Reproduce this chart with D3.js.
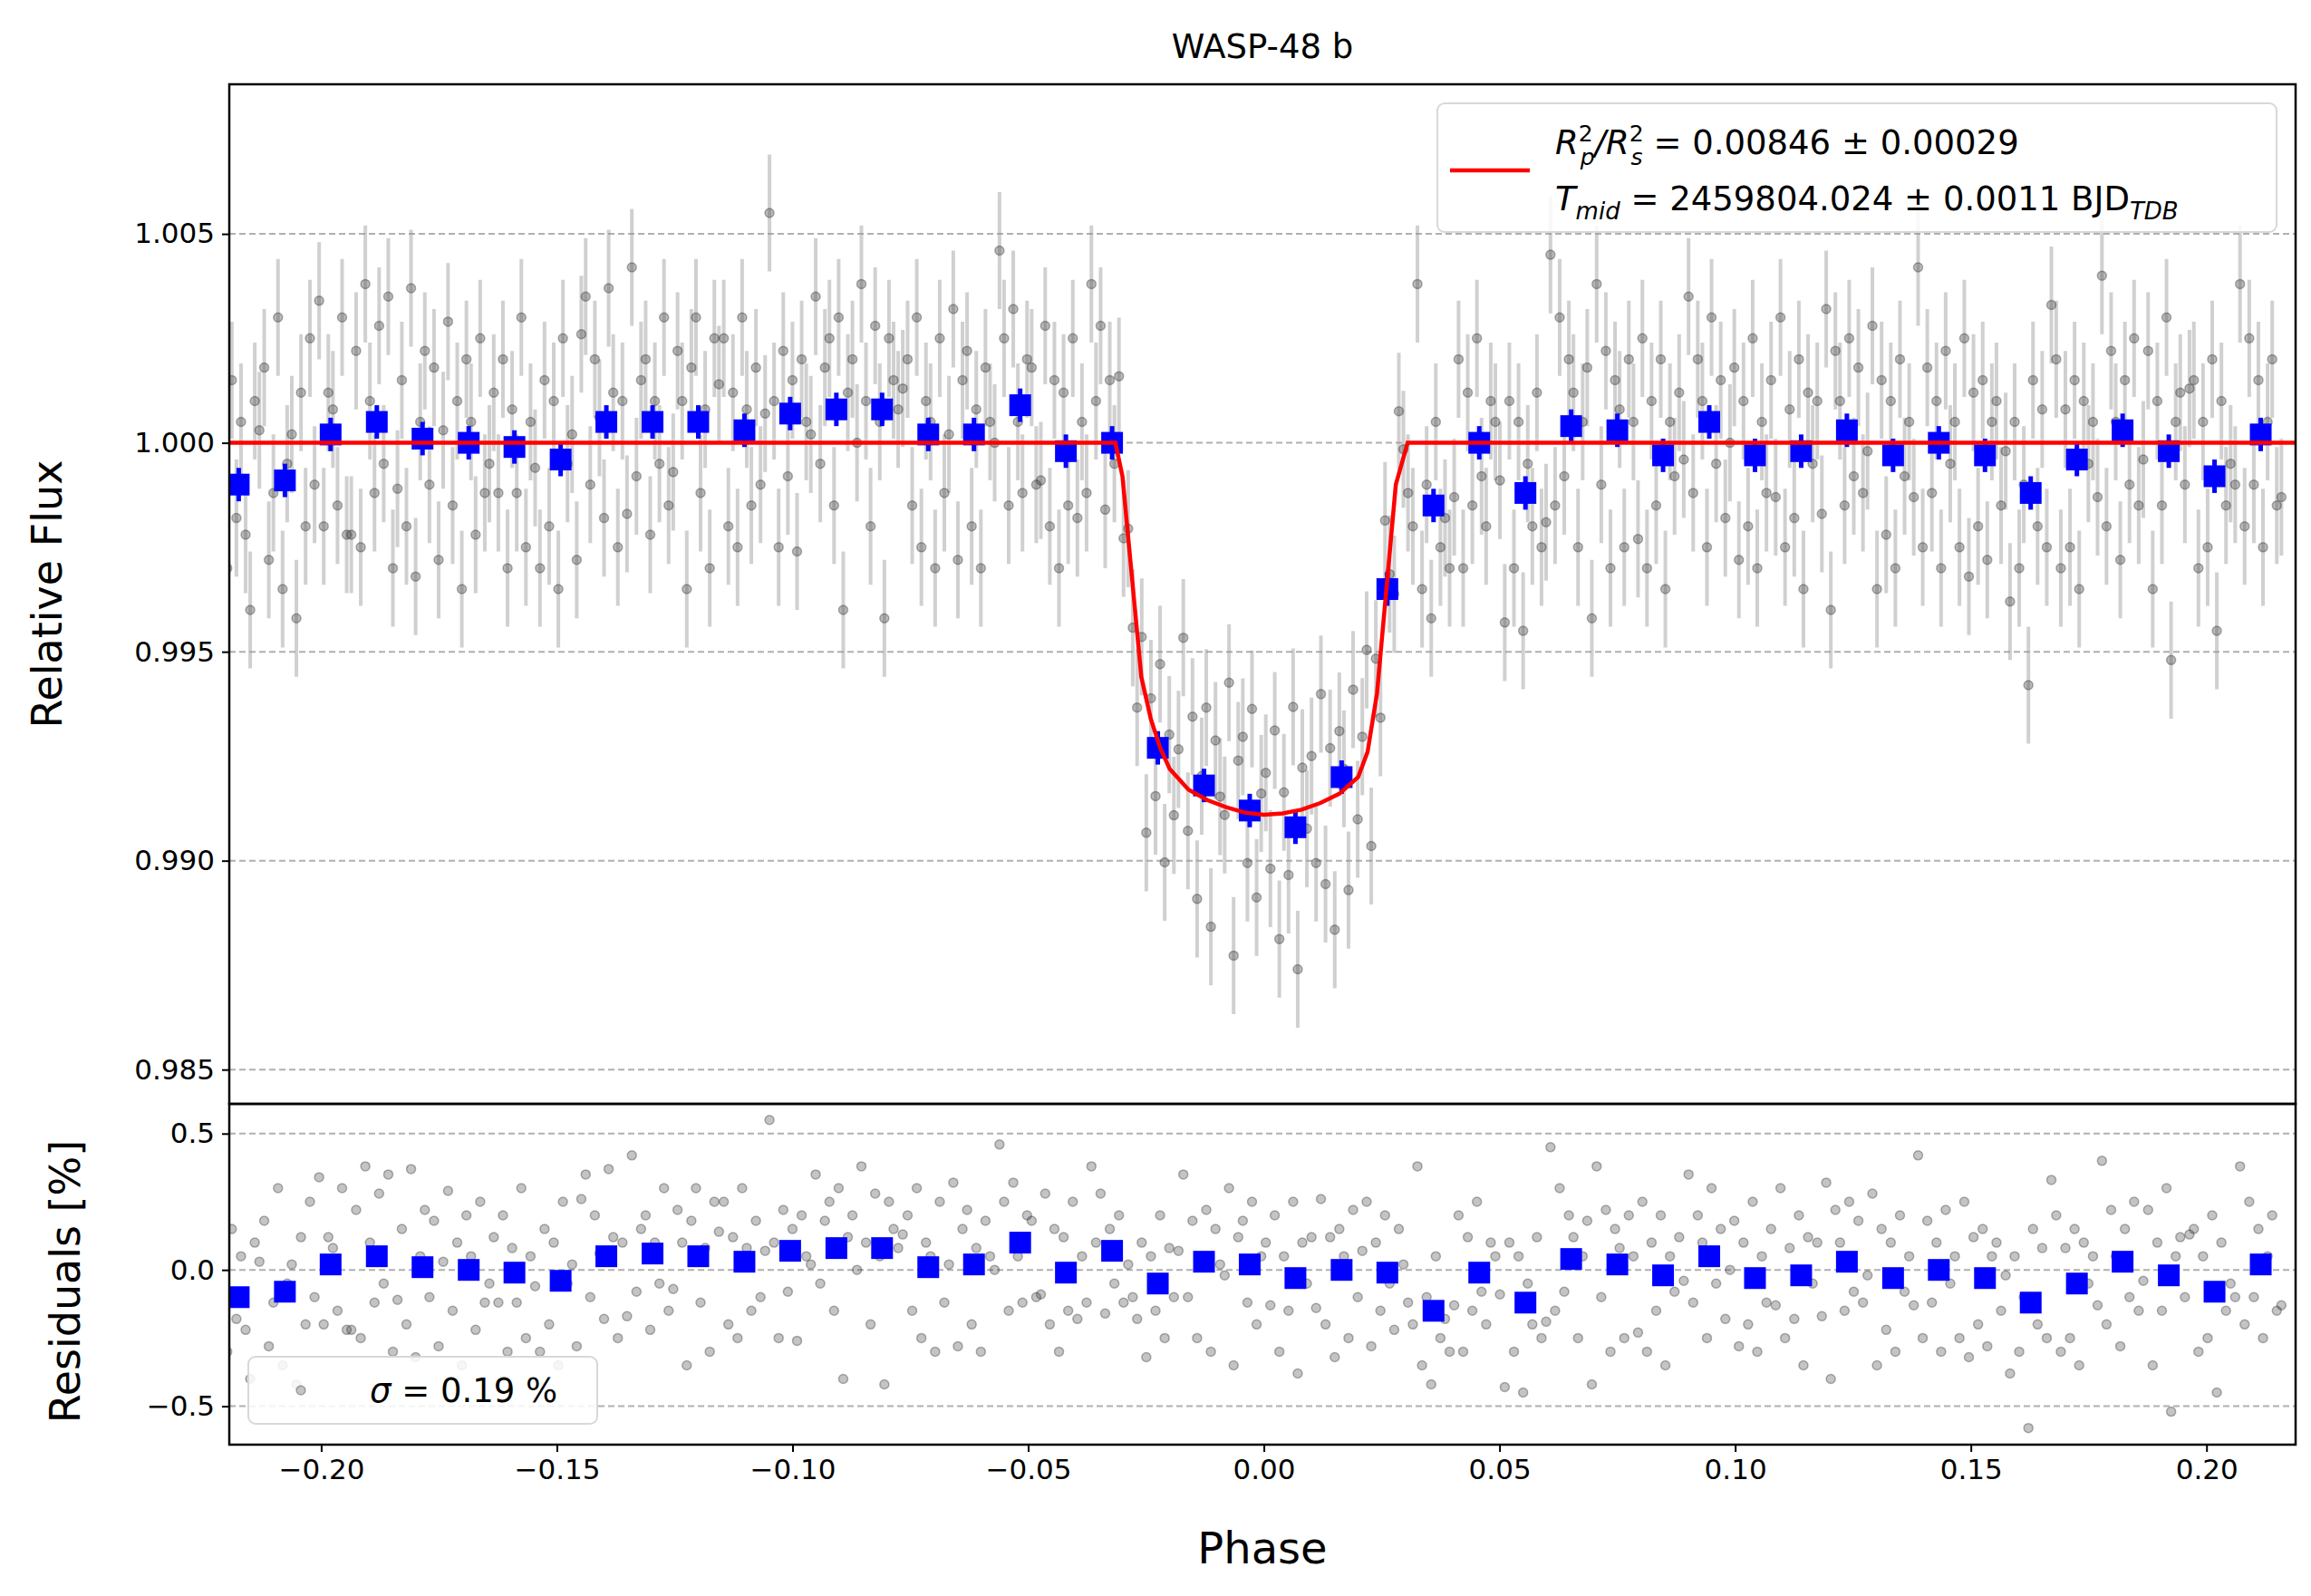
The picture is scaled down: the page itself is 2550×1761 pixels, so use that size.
<!DOCTYPE html>
<html>
<head>
<meta charset="UTF-8">
<style>
  body { margin: 0; background: white; }
  text { font-family: "DejaVu Sans", sans-serif; }
</style>
</head>
<body>
<svg></svg>
<script src="https://d3js.org/d3.v7.min.js"></script>
<script>
// binned points (phase, relative flux) and binned residuals [%]
const binPhase = [-0.2175,-0.2077,-0.1980,-0.1882,-0.1785,-0.1687,-0.1590,-0.1492,-0.1395,-0.1297,-0.1200,-0.1102,-0.1005,-0.0907,-0.0810,-0.0712,-0.0615,-0.0517,-0.0420,-0.0322,-0.0225,-0.0127,-0.0030,0.0067,0.0165,0.0262,0.0360,0.0457,0.0555,0.0652,0.0750,0.0847,0.0945,0.1042,0.1140,0.1237,0.1335,0.1432,0.1530,0.1627,0.1725,0.1822,0.1920,0.2017,0.2115];
const binFlux = [0.9990,0.9991,1.0002,1.0005,1.0001,1.0000,0.9999,0.9996,1.0005,1.0005,1.0005,1.0003,1.0007,1.0008,1.0008,1.0002,1.0002,1.0009,0.9998,1.0000,0.9927,0.9918,0.9912,0.9908,0.9920,0.9965,0.9985,1.0000,0.9988,1.0004,1.0003,0.9997,1.0005,0.9997,0.9998,1.0003,0.9997,1.0000,0.9997,0.9988,0.9996,1.0003,0.9998,0.9992,1.0002];
const binResid = [-0.10,-0.08,0.02,0.05,0.01,0.00,-0.01,-0.04,0.05,0.06,0.05,0.03,0.07,0.08,0.08,0.01,0.02,0.10,-0.01,0.07,-0.05,0.03,0.02,-0.03,0.00,-0.01,-0.15,-0.01,-0.12,0.04,0.02,-0.02,0.05,-0.03,-0.02,0.03,-0.03,0.00,-0.03,-0.12,-0.05,0.03,-0.02,-0.08,0.02];

// transit model curve
const modelPhase = [-0.23,-0.0315,-0.030,-0.028,-0.026,-0.024,-0.022,-0.020,-0.016,-0.012,-0.008,-0.004,0,0.004,0.008,0.012,0.016,0.020,0.022,0.024,0.026,0.028,0.0305,0.23];
const modelFlux = [1,1,0.9992,0.9968,0.9944,0.9934,0.9927,0.9922,0.9917,0.99145,0.99128,0.99115,0.9911,0.99113,0.99122,0.99138,0.9916,0.9920,0.9926,0.9940,0.9965,0.9990,1,1];

// unbinned residuals [%], 10 per bin
const resid = [
-0.25,0.02,-0.30,0.15,-0.18,0.05,-0.22,-0.40,0.10,0.03,
0.18,-0.28,-0.12,0.30,-0.35,-0.05,0.02,-0.42,0.12,-0.20,
0.25,-0.10,0.34,-0.20,0.12,0.08,-0.15,0.30,-0.22,-0.22,
0.22,-0.25,0.38,0.10,-0.12,0.28,-0.05,0.35,-0.30,-0.11,
0.15,-0.20,0.37,-0.32,0.05,0.22,-0.10,0.18,-0.28,0.03,
0.29,-0.15,0.10,-0.35,0.20,0.05,-0.22,0.25,-0.12,-0.05,
0.12,-0.12,0.20,-0.30,0.08,-0.12,0.30,-0.25,0.05,-0.06,
-0.30,0.15,-0.20,0.10,-0.35,0.25,-0.05,0.02,-0.28,0.26,
0.35,-0.10,0.20,0.06,-0.18,0.37,0.12,-0.25,0.10,-0.17,
0.42,-0.08,0.15,0.20,-0.22,0.10,-0.05,0.30,-0.15,-0.07,
0.22,0.10,-0.35,0.18,0.30,-0.12,0.08,-0.30,0.25,0.14,
0.25,-0.20,0.12,-0.25,0.30,0.08,-0.15,0.18,-0.10,0.07,
0.55,0.10,-0.25,0.22,-0.08,0.15,-0.26,0.20,0.05,0.02,
0.35,-0.05,0.18,0.25,-0.15,0.30,-0.40,0.12,0.20,0.00,
0.38,0.10,-0.20,0.28,0.05,-0.42,0.25,0.15,0.08,0.13,
0.20,-0.15,0.30,-0.25,0.10,0.05,-0.30,0.25,-0.12,0.02,
0.32,-0.28,0.15,0.22,-0.20,0.08,-0.30,0.18,0.05,0.00,
0.46,0.25,-0.15,0.32,0.05,-0.12,0.20,0.18,-0.10,-0.09,
0.28,-0.20,0.15,-0.30,0.12,-0.15,0.25,-0.18,0.05,-0.12,
0.38,0.10,0.28,-0.16,0.15,-0.05,0.20,-0.12,0.02,-0.10,
-0.18,0.10,-0.32,0.05,-0.15,0.20,-0.25,0.08,-0.10,0.07,
0.35,-0.10,0.18,-0.25,0.05,0.22,-0.30,0.15,0.02,-0.02,
0.30,-0.35,0.12,0.18,-0.12,0.25,-0.20,0.05,0.10,-0.13,
0.20,-0.30,0.05,-0.15,0.25,-0.38,0.10,-0.05,0.12,-0.14,
0.26,-0.20,0.12,-0.32,0.15,0.05,-0.25,0.22,-0.10,0.07,
0.25,-0.28,0.10,-0.15,0.20,-0.05,-0.22,0.15,0.02,-0.12,
-0.20,0.38,-0.35,-0.10,-0.42,0.05,-0.25,-0.18,-0.30,-0.13,
0.20,-0.30,0.12,-0.15,0.25,-0.08,-0.20,0.10,0.05,-0.09,
-0.43,0.10,-0.30,0.05,-0.45,-0.05,-0.20,0.12,-0.25,-0.19,
0.45,-0.15,0.30,-0.08,0.20,0.12,-0.25,0.05,0.18,-0.42,
0.38,-0.10,0.22,-0.30,0.15,0.08,-0.25,0.20,0.05,-0.23,
0.25,-0.30,0.10,-0.15,0.20,-0.35,0.05,-0.08,0.12,-0.04,
0.35,-0.12,0.20,0.10,-0.25,0.30,-0.05,0.15,-0.18,0.00,
0.18,-0.28,0.10,-0.20,0.25,-0.30,0.05,-0.12,0.15,-0.13,
0.30,-0.25,0.08,-0.18,0.20,-0.35,0.12,-0.05,0.10,-0.17,
0.32,-0.40,0.22,0.10,-0.15,0.25,-0.08,0.18,-0.12,-0.02,
0.28,-0.35,0.15,-0.22,0.10,-0.30,0.20,-0.08,0.05,-0.13,
0.42,-0.25,0.18,-0.12,0.10,-0.30,0.22,-0.05,0.05,-0.25,
0.25,-0.32,0.12,-0.20,0.15,-0.28,0.05,0.10,-0.15,-0.02,
-0.38,0.05,-0.30,-0.10,-0.58,0.15,-0.20,0.08,-0.25,0.33,
0.20,-0.30,0.08,-0.25,0.15,-0.35,0.10,-0.05,0.05,-0.13,
0.40,-0.20,0.22,0.05,-0.28,0.15,-0.10,0.25,-0.15,-0.04,
0.22,-0.35,0.10,-0.15,0.30,-0.52,0.05,0.12,-0.10,0.13,
0.15,-0.30,0.05,-0.25,0.20,-0.45,0.10,-0.15,-0.05,-0.10,
0.38,-0.20,0.25,-0.10,0.15,-0.25,0.05,0.20,-0.15,-0.13];
const fluxErr = 0.0014, binErr = 0.0004;

const xTicks = [-0.20,-0.15,-0.10,-0.05,0.00,0.05,0.10,0.15,0.20];
const yTicks = [0.985,0.990,0.995,1.000,1.005];
const rTicks = [-0.5,0.0,0.5];

const W = 2550, H = 1761;
const L = 253, R = 2533, T = 93, M = 1218, B = 1594;
const svg = d3.select("svg").attr("width", W).attr("height", H);

const x = d3.scaleLinear().domain([-0.2195, 0.2189]).range([L, R]);
const y = d3.scaleLinear().domain([0.98418, 1.00858]).range([M, T]);
const yr = d3.scaleLinear().domain([-0.641, 0.609]).range([B, M]);

const model = d3.scaleLinear().domain(modelPhase).range(modelFlux);
const points = resid.map((r, i) => {
  const b = Math.floor(i / 10), j = i % 10;
  const ph = binPhase[b] + (j - 4.5) * 0.000975;
  return {ph: ph, res: r, flux: model(ph) + r / 100};
});
const bins = binPhase.map((p, i) => ({ph: p, flux: binFlux[i], res: binResid[i]}));

const defs = svg.append("defs");
defs.append("clipPath").attr("id", "ct")
  .append("rect").attr("x", L).attr("y", T).attr("width", R - L).attr("height", M - T);
defs.append("clipPath").attr("id", "cb")
  .append("rect").attr("x", L).attr("y", M).attr("width", R - L).attr("height", B - M);

// gridlines
const grid = svg.append("g").attr("stroke", "#b0b0b0").attr("stroke-width", 2).attr("stroke-dasharray", "7,4");
grid.selectAll(".gt").data(yTicks).enter().append("line")
  .attr("x1", L).attr("x2", R).attr("y1", d => y(d)).attr("y2", d => y(d));
grid.selectAll(".gr").data(rTicks).enter().append("line")
  .attr("x1", L).attr("x2", R).attr("y1", d => yr(d)).attr("y2", d => yr(d));

// top panel
const topG = svg.append("g").attr("clip-path", "url(#ct)");
topG.append("g").selectAll("line").data(points).enter().append("line")
  .attr("x1", d => x(d.ph)).attr("x2", d => x(d.ph))
  .attr("y1", d => y(d.flux - fluxErr)).attr("y2", d => y(d.flux + fluxErr))
  .attr("stroke", "rgba(150,150,150,0.45)").attr("stroke-width", 4);
topG.append("g").selectAll("circle").data(points).enter().append("circle")
  .attr("cx", d => x(d.ph)).attr("cy", d => y(d.flux)).attr("r", 5)
  .attr("fill", "rgba(60,60,60,0.35)").attr("stroke", "rgba(40,40,40,0.35)").attr("stroke-width", 1.5);
topG.append("g").selectAll("line").data(bins).enter().append("line")
  .attr("x1", d => x(d.ph)).attr("x2", d => x(d.ph))
  .attr("y1", d => y(d.flux - binErr)).attr("y2", d => y(d.flux + binErr))
  .attr("stroke", "blue").attr("stroke-width", 5);
topG.append("g").selectAll("rect").data(bins).enter().append("rect")
  .attr("x", d => x(d.ph) - 12).attr("y", d => y(d.flux) - 12).attr("width", 24).attr("height", 24)
  .attr("fill", "blue");
topG.append("path").datum(modelPhase.map((p, i) => [p, modelFlux[i]]))
  .attr("d", d3.line().x(d => x(d[0])).y(d => y(d[1])))
  .attr("fill", "none").attr("stroke", "red").attr("stroke-width", 4.5);

// bottom panel
const botG = svg.append("g").attr("clip-path", "url(#cb)");
botG.append("g").selectAll("circle").data(points).enter().append("circle")
  .attr("cx", d => x(d.ph)).attr("cy", d => yr(d.res)).attr("r", 5)
  .attr("fill", "rgba(60,60,60,0.3)").attr("stroke", "rgba(40,40,40,0.35)").attr("stroke-width", 1.5);
botG.append("g").selectAll("rect").data(bins).enter().append("rect")
  .attr("x", d => x(d.ph) - 12).attr("y", d => yr(d.res) - 12).attr("width", 24).attr("height", 24)
  .attr("fill", "blue");

// axes
const fs = 31;
svg.append("g").attr("transform", `translate(0,${B})`)
  .call(d3.axisBottom(x).tickValues(xTicks).tickFormat(d => d3.format(".2f")(d).replace("-", "\u2212")).tickSize(8).tickPadding(8))
  .call(g => g.selectAll("text").style("font-size", fs + "px").style("font-family", "DejaVu Sans"));
svg.append("g").attr("transform", `translate(${L},0)`)
  .call(d3.axisLeft(y).tickValues(yTicks).tickFormat(d3.format(".3f")).tickSize(8).tickPadding(8))
  .call(g => g.selectAll("text").style("font-size", fs + "px").style("font-family", "DejaVu Sans"));
svg.append("g").attr("transform", `translate(${L},0)`)
  .call(d3.axisLeft(yr).tickValues(rTicks).tickFormat(d => d3.format(".1f")(d).replace("-", "\u2212")).tickSize(8).tickPadding(8))
  .call(g => g.selectAll("text").style("font-size", fs + "px").style("font-family", "DejaVu Sans"));
svg.selectAll(".domain").remove();
svg.selectAll(".tick line").attr("stroke-width", 2);

svg.append("rect").attr("x", L).attr("y", T).attr("width", R - L).attr("height", M - T)
  .attr("fill", "none").attr("stroke", "black").attr("stroke-width", 2.5);
svg.append("rect").attr("x", L).attr("y", M).attr("width", R - L).attr("height", B - M)
  .attr("fill", "none").attr("stroke", "black").attr("stroke-width", 2.5);

// labels
svg.append("text").attr("x", (L + R) / 2).attr("y", 64).attr("text-anchor", "middle")
  .style("font-size", "37px").text("WASP-48 b");
svg.append("text").attr("x", (L + R) / 2).attr("y", 1725).attr("text-anchor", "middle")
  .style("font-size", "48px").text("Phase");
svg.append("text").attr("transform", `translate(68,${(T + M) / 2}) rotate(-90)`).attr("text-anchor", "middle")
  .style("font-size", "46px").text("Relative Flux");
svg.append("text").attr("transform", `translate(88,${(M + B) / 2 + 8}) rotate(-90)`).attr("text-anchor", "middle")
  .style("font-size", "46px").text("Residuals [%]");

// top legend
svg.append("rect").attr("x", 1586).attr("y", 114).attr("width", 926).attr("height", 142).attr("rx", 8)
  .attr("fill", "rgba(255,255,255,0.85)").attr("stroke", "#d8d8d8").attr("stroke-width", 2);
svg.append("line").attr("x1", 1600).attr("x2", 1688).attr("y1", 188).attr("y2", 188)
  .attr("stroke", "red").attr("stroke-width", 4.5);
const t1 = svg.append("text").attr("x", 1716).attr("y", 170).style("font-size", "37px");
t1.append("tspan").style("font-style", "italic").text("R");
t1.append("tspan").attr("dy", -14).style("font-size", "25px").text("2");
t1.append("tspan").attr("dx", -14).attr("dy", 26).style("font-size", "25px").style("font-style", "italic").text("p");
t1.append("tspan").attr("dy", -12).style("font-style", "italic").text("/R");
t1.append("tspan").attr("dy", -14).style("font-size", "25px").text("2");
t1.append("tspan").attr("dx", -14).attr("dy", 26).style("font-size", "25px").style("font-style", "italic").text("s");
t1.append("tspan").attr("dy", -12).text(" = 0.00846 \u00b1 0.00029");
const t2 = svg.append("text").attr("x", 1716).attr("y", 232).style("font-size", "37px");
t2.append("tspan").style("font-style", "italic").text("T");
t2.append("tspan").attr("dy", 10).style("font-size", "26px").style("font-style", "italic").text("mid");
t2.append("tspan").attr("dy", -10).text(" = 2459804.024 \u00b1 0.0011 BJD");
t2.append("tspan").attr("dy", 10).style("font-size", "26px").style("font-style", "italic").text("TDB");

// bottom legend
svg.append("rect").attr("x", 274).attr("y", 1497).attr("width", 385).attr("height", 74).attr("rx", 8)
  .attr("fill", "rgba(255,255,255,0.85)").attr("stroke", "#d8d8d8").attr("stroke-width", 2);
svg.append("circle").attr("cx", 332).attr("cy", 1534).attr("r", 5)
  .attr("fill", "rgba(60,60,60,0.3)").attr("stroke", "rgba(40,40,40,0.35)").attr("stroke-width", 1.5);
const t3 = svg.append("text").attr("x", 408).attr("y", 1547).style("font-size", "37px");
t3.append("tspan").style("font-style", "italic").text("\u03c3");
t3.append("tspan").text(" = 0.19 %");
</script>
</body>
</html>
